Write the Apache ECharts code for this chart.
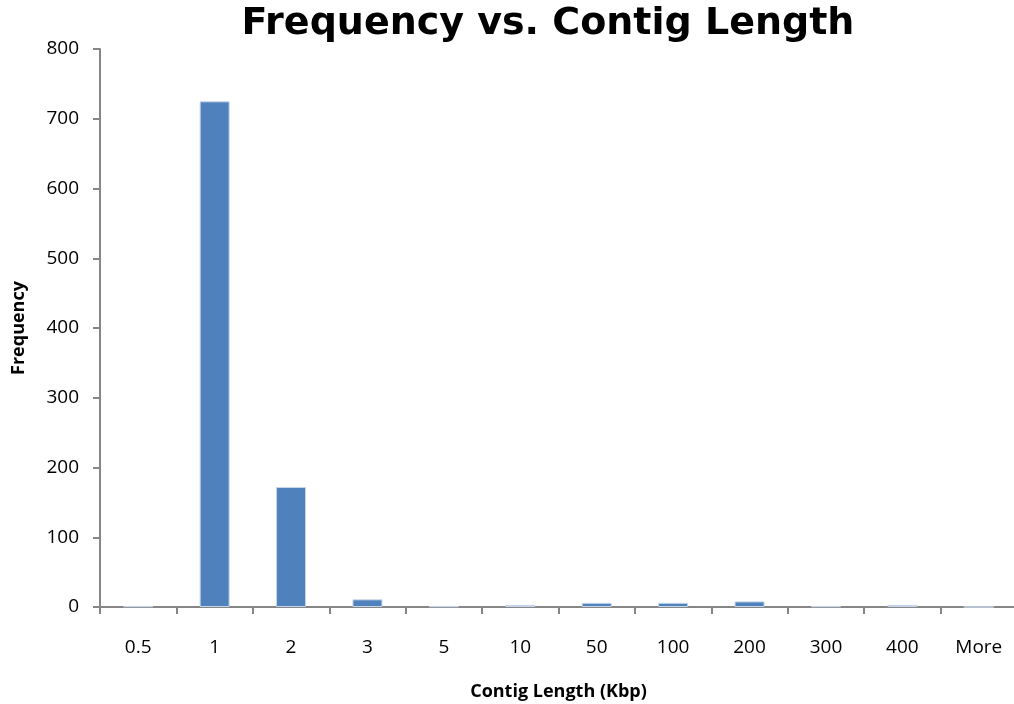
<!DOCTYPE html>
<html>
<head>
<meta charset="utf-8">
<script src="https://cdn.jsdelivr.net/npm/echarts@6/dist/echarts.min.js"></script>
<style>
  html, body { margin: 0; padding: 0; background: #fff; }
  #chart { width: 1014px; height: 704px; }
</style>
</head>
<body>
<div id="chart"></div>
<script>
// Contig length bins (Kbp) and their counts
const categories = ['0.5', '1', '2', '3', '5', '10', '50', '100', '200', '300', '400', 'More'];
const frequency = [1, 725, 172, 11, 1, 3, 6, 6, 8, 1, 3, 0];
const yTicks = { min: 0, max: 800, interval: 100 };

const chart = echarts.init(document.getElementById('chart'), null, { renderer: 'canvas' });
const labelFont = '"Open Sans", "Noto Sans", sans-serif';
const titleFont = '"DejaVu Sans", "Liberation Sans", sans-serif';

chart.setOption({
  backgroundColor: '#ffffff',
  animation: false,
  title: {
    text: 'Frequency vs. Contig Length',
    left: 543,
    textAlign: 'center',
    top: 0,
    textStyle: {
      fontFamily: titleFont,
      fontWeight: 'bold',
      fontSize: 38,
      color: '#000000'
    }
  },
  grid: { left: 100, top: 49, width: 917, height: 558, outerBoundsMode: 'none', containLabel: false },
  xAxis: {
    type: 'category',
    data: categories,
    name: 'Contig Length (Kbp)',
    nameLocation: 'middle',
    nameGap: 76,
    nameTextStyle: { fontFamily: labelFont, fontWeight: 'bold', fontSize: 18, color: '#000' },
    axisLine: { lineStyle: { color: '#868686', width: 2 } },
    axisTick: { show: true, length: 7, lineStyle: { color: '#868686', width: 2 } },
    axisLabel: { fontFamily: labelFont, fontSize: 19, color: '#000', margin: 31 },
    splitLine: { show: false }
  },
  yAxis: {
    type: 'value',
    min: yTicks.min,
    max: yTicks.max,
    interval: yTicks.interval,
    name: 'Frequency',
    nameLocation: 'middle',
    nameGap: 72,
    nameRotate: 90,
    nameTextStyle: { fontFamily: labelFont, fontWeight: 'bold', fontSize: 18, color: '#000' },
    axisLine: { show: true, lineStyle: { color: '#868686', width: 2 } },
    axisTick: { show: true, length: 7, lineStyle: { color: '#868686', width: 2 } },
    axisLabel: { fontFamily: labelFont, fontSize: 19, color: '#000', margin: 21 },
    splitLine: { show: false }
  },
  series: [{
    type: 'bar',
    data: frequency,
    barWidth: 30,
    itemStyle: { color: '#4F81BD', borderColor: '#C6D6EA', borderWidth: 1 }
  }]
});
</script>
</body>
</html>
